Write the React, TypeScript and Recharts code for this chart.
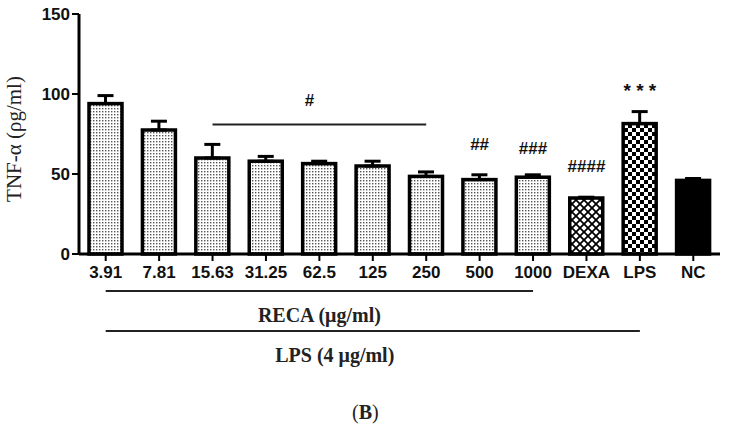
import React from 'react';
import { ComposedChart, Bar, XAxis, YAxis, ErrorBar, ReferenceLine, Line } from 'recharts';

const categories = ['3.91', '7.81', '15.63', '31.25', '62.5', '125', '250', '500', '1000', 'DEXA', 'LPS', 'NC'];
const means = [94, 77.5, 60, 58, 56.5, 55, 48.5, 46.5, 48, 35, 81.5, 46];
const errors = [5, 5.5, 8.5, 3, 1.5, 3, 2.8, 3, 1.5, 0.5, 7.5, 1.2];
const fillKinds = ['dots', 'dots', 'dots', 'dots', 'dots', 'dots', 'dots', 'dots', 'dots', 'cross', 'checker', 'solid'];
const marks = ['', '', '', '', '', '', '', '##', '###', '####', '* * *', ''];
const markLevels: (number | null)[] = [null, null, null, null, null, null, null, 68.75, 66, 55, 102, null];
const yTicks = [0, 50, 100, 150];

const bracket = { from: '15.63', to: '250', level: 81, mark: '#' };
const recaLine = { from: '3.91', to: '1000', level: -23.1, text: 'RECA (\u03bcg/ml)' };
const lpsLine = { from: '3.91', to: 'LPS', level: -48.1, text: 'LPS (4 \u03bcg/ml)' };
const Y_LABEL = 'TNF-\u03b1  (\u03c1g/ml)';

const data = categories.map((name, i) => ({
  name,
  mean: means[i],
  err: [0, errors[i]],
  kind: fillKinds[i],
  mark: marks[i],
  markY: markLevels[i],
}));

const SANS = '"Liberation Sans", Arial, sans-serif';
const SERIF = '"Liberation Serif", "Times New Roman", serif';

const fillFor = (kind: string) =>
  kind === 'solid' ? '#000' : kind === 'cross' ? 'url(#pCross)' : kind === 'checker' ? 'url(#pChecker)' : 'url(#pDots)';

const BarShape = (props: any) => {
  const { x, y, width, height, payload } = props;
  return (
    <rect x={x} y={y} width={width} height={height} fill={fillFor(payload.kind)} stroke="#000" strokeWidth={3.5} />
  );
};

const MarkDot = (props: any) => {
  const { cx, cy, payload, index } = props;
  if (!payload || !payload.mark || cy == null || isNaN(cy)) return <g key={index} />;
  const star = payload.mark.indexOf('*') >= 0;
  return (
    <text key={index} x={cx} y={cy} dy="0.35em" textAnchor="middle" fontFamily={SANS} fontWeight="bold" fontSize={star ? 19 : 17} fill="#111">
      {payload.mark}
    </text>
  );
};

const SegLabel = (props: any) => {
  const { viewBox, text, shift, below } = props;
  let x1 = 0, x2 = 0, y = 0;
  if (viewBox && viewBox.x1 != null) {
    x1 = viewBox.x1; x2 = viewBox.x2; y = viewBox.y1;
  } else if (viewBox) {
    x1 = viewBox.x; x2 = viewBox.x + (viewBox.width || 0); y = viewBox.y;
  }
  const cx = (x1 + x2) / 2 + (shift || 0);
  return (
    <text x={cx} y={y + below} dy="0.35em" textAnchor="middle" fontFamily={SERIF} fontWeight="bold" fontSize={20} fill="#222">
      {text}
    </text>
  );
};

const BracketLabel = (props: any) => {
  const { viewBox } = props;
  let x1 = 0, x2 = 0, y = 0;
  if (viewBox && viewBox.x1 != null) {
    x1 = viewBox.x1; x2 = viewBox.x2; y = viewBox.y1;
  } else if (viewBox) {
    x1 = viewBox.x; x2 = viewBox.x + (viewBox.width || 0); y = viewBox.y;
  }
  return (
    <text x={(x1 + x2) / 2 - 10} y={y - 24} dy="0.35em" textAnchor="middle" fontFamily={SANS} fontWeight="bold" fontSize={17} fill="#111">
      {bracket.mark}
    </text>
  );
};

export default function App() {
  return (
    <div style={{ position: 'absolute', left: 0, top: 0, width: 733, height: 440, background: '#fff' }}>
      <svg width={0} height={0} style={{ position: 'absolute' }}>
        <defs>
          <pattern id="pDots" width={3} height={3} patternUnits="userSpaceOnUse">
            <rect width={3} height={3} fill="#fff" />
            <rect x={0} y={0} width={1.4} height={1.4} fill="#555" />
          </pattern>
          <pattern id="pCross" width={8} height={8} patternUnits="userSpaceOnUse">
            <rect width={8} height={8} fill="#fff" />
            <path d="M-1,-1 L9,9 M9,-1 L-1,9" stroke="#000" strokeWidth={1.8} />
          </pattern>
          <pattern id="pChecker" width={8} height={8} patternUnits="userSpaceOnUse">
            <rect width={8} height={8} fill="#fff" />
            <rect x={0} y={0} width={4} height={4} fill="#000" />
            <rect x={4} y={4} width={4} height={4} fill="#000" />
          </pattern>
        </defs>
      </svg>
      <ComposedChart
        width={733}
        height={440}
        data={data}
        margin={{ top: 14, right: 13, bottom: 156, left: 0 }}
        barSize={33}
      >
        <XAxis
          dataKey="name"
          interval={0}
          height={30}
          tickSize={7}
          tickMargin={5}
          axisLine={{ stroke: '#000', strokeWidth: 3 }}
          tickLine={{ stroke: '#000', strokeWidth: 2 }}
          tick={{ fill: '#111', fontFamily: SANS, fontWeight: 'bold', fontSize: 17 }}
        />
        <YAxis
          domain={[0, 150]}
          ticks={yTicks}
          width={79}
          tickSize={7}
          tickMargin={2}
          axisLine={{ stroke: '#000', strokeWidth: 3 }}
          tickLine={{ stroke: '#000', strokeWidth: 2 }}
          tick={{ fill: '#111', fontFamily: SANS, fontWeight: 'bold', fontSize: 17 }}
        />
        <Bar dataKey="mean" isAnimationActive={false} shape={<BarShape />}>
          <ErrorBar dataKey="err" direction="y" width={8} stroke="#000" strokeWidth={3} isAnimationActive={false} />
        </Bar>
        <Line
          dataKey="markY"
          stroke="none"
          isAnimationActive={false}
          dot={(p: any) => <MarkDot {...p} />}
          activeDot={false}
          legendType="none"
        />
        <ReferenceLine
          segment={[{ x: bracket.from, y: bracket.level }, { x: bracket.to, y: bracket.level }]}
          stroke="#222"
          strokeWidth={2}
          ifOverflow="visible"
          label={<BracketLabel />}
        />
        <ReferenceLine
          segment={[{ x: recaLine.from, y: recaLine.level }, { x: recaLine.to, y: recaLine.level }]}
          stroke="#222"
          strokeWidth={2}
          ifOverflow="visible"
          label={<SegLabel text={recaLine.text} shift={0} below={24} />}
        />
        <ReferenceLine
          segment={[{ x: lpsLine.from, y: lpsLine.level }, { x: lpsLine.to, y: lpsLine.level }]}
          stroke="#222"
          strokeWidth={2}
          ifOverflow="visible"
          label={<SegLabel text={lpsLine.text} shift={-38} below={24} />}
        />
      </ComposedChart>
      <svg width={40} height={220} style={{ position: 'absolute', left: 0, top: 30 }}>
        <text
          x={14}
          y={109}
          transform="rotate(-90, 14, 109)"
          textAnchor="middle"
          dy="0.35em"
          fontFamily={SERIF}
          fontSize={21}
          fill="#222"
        >
          {Y_LABEL}
        </text>
      </svg>
      <div
        style={{
          position: 'absolute',
          left: 352,
          top: 400,
          fontFamily: SERIF,
          fontSize: 20,
          color: '#222',
          lineHeight: '24px',
        }}
      >
        (<b>B</b>)
      </div>
    </div>
  );
}
